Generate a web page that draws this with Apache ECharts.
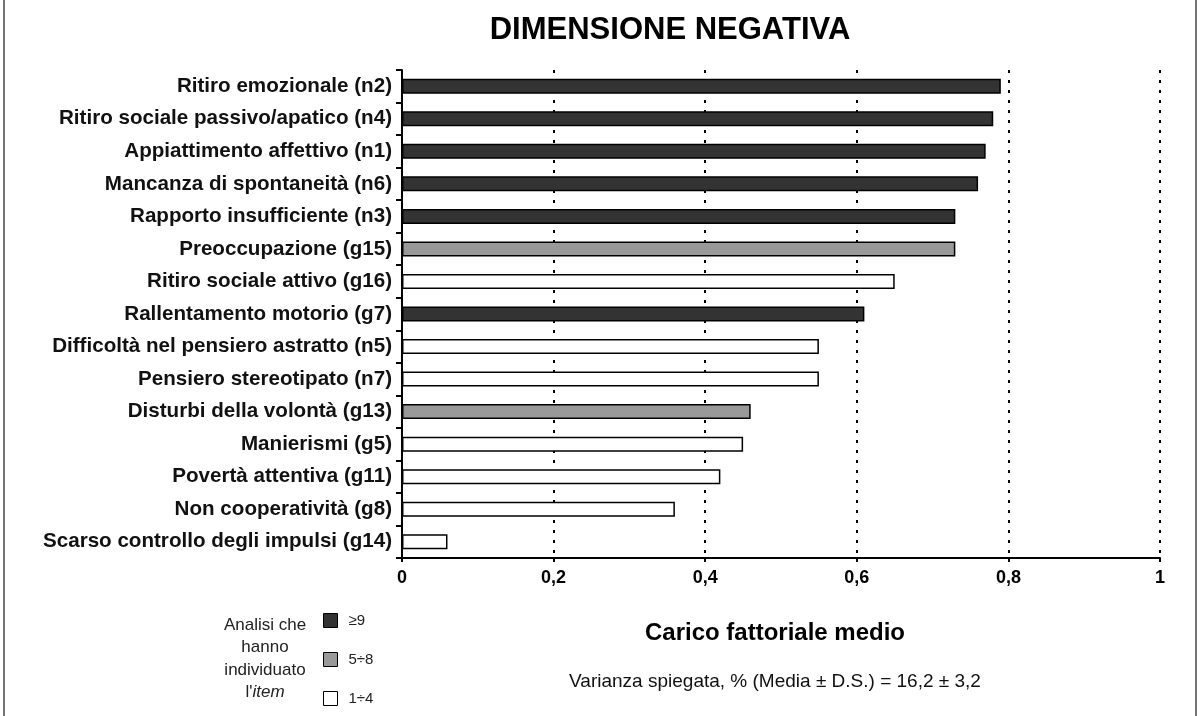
<!DOCTYPE html>
<html>
<head>
<meta charset="utf-8">
<script src="https://cdn.jsdelivr.net/npm/echarts@6/dist/echarts.min.js"></script>
<style>
html,body{margin:0;padding:0;background:#fff;}
#c{width:1200px;height:716px;}
</style>
</head>
<body>
<div id="c"></div>
<script>
const categories = [
  "Ritiro emozionale (n2)",
  "Ritiro sociale passivo/apatico (n4)",
  "Appiattimento affettivo (n1)",
  "Mancanza di spontaneità (n6)",
  "Rapporto insufficiente (n3)",
  "Preoccupazione (g15)",
  "Ritiro sociale attivo (g16)",
  "Rallentamento motorio (g7)",
  "Difficoltà nel pensiero astratto (n5)",
  "Pensiero stereotipato (n7)",
  "Disturbi della volontà (g13)",
  "Manierismi (g5)",
  "Povertà attentiva (g11)",
  "Non cooperatività (g8)",
  "Scarso controllo degli impulsi (g14)"
];
const values = [0.79, 0.78, 0.77, 0.76, 0.73, 0.73, 0.65, 0.61, 0.55, 0.55, 0.46, 0.45, 0.42, 0.36, 0.06];
// group: 0 = ≥9, 1 = 5÷8, 2 = 1÷4
const groups = [0, 0, 0, 0, 0, 1, 2, 0, 2, 2, 1, 2, 2, 2, 2];
const groupNames = ["≥9", "5÷8", "1÷4"];
const groupColors = ["#333333", "#999999", "#ffffff"];

const FONT = "'Liberation Sans', Arial, Helvetica, sans-serif";

const series = groupNames.map((g, gi) => ({
  name: g,
  type: 'bar',
  stack: 'all',
  barWidth: 15,
  data: values.map((v, i) => groups[i] === gi ? v : null),
  itemStyle: { color: groupColors[gi], borderColor: '#000', borderWidth: 1.5 },
  emphasis: { disabled: true },
  z: 3
}));

const chart = echarts.init(document.getElementById('c'), null, { renderer: 'canvas' });
chart.setOption({
  animation: false,
  backgroundColor: '#ffffff',
  title: {
    text: 'DIMENSIONE NEGATIVA',
    left: 665, top: 10, textAlign: 'center',
    textStyle: { fontFamily: FONT, fontSize: 31, fontWeight: 'bold', color: '#000' }
  },
  legend: {
    orient: 'vertical',
    left: 323, top: 613, padding: 0, height: 100,
    itemWidth: 14, itemHeight: 14, itemGap: 24,
    selectedMode: false,
    icon: 'rect',
    data: groupNames,
    itemStyle: { borderColor: '#000', borderWidth: 1 },
    textStyle: { fontFamily: FONT, fontSize: 15, color: '#222', padding: [0, 0, 0, 6] }
  },
  grid: { left: 402, right: 40, top: 70, bottom: 158, containLabel: false },
  xAxis: {
    type: 'value', min: 0, max: 1, interval: 0.2,
    axisLine: { show: true, lineStyle: { color: '#000', width: 2 } },
    axisTick: { show: true, length: 4, lineStyle: { color: '#000', width: 2 } },
    axisLabel: {
      margin: 11,
      fontFamily: FONT, fontSize: 18, fontWeight: 'bold', color: '#000',
      formatter: v => String(Math.round(v * 10) / 10).replace('.', ',')
    },
    splitLine: { show: true, lineStyle: { color: '#000', width: 2, type: [3, 7] } }
  },
  yAxis: {
    type: 'category', data: categories, inverse: true,
    axisLine: { show: true, lineStyle: { color: '#000', width: 2 } },
    axisTick: { show: true, length: 6, lineStyle: { color: '#000', width: 2 } },
    axisLabel: { margin: 10, fontFamily: FONT, fontSize: 20.6, fontWeight: 'bold', color: '#111' },
    splitLine: { show: false }
  },
  series: series,
  graphic: [
    { type: 'line', shape: { x1: 4, y1: 0, x2: 4, y2: 716 }, style: { stroke: '#444', lineWidth: 1.5 } },
    { type: 'line', shape: { x1: 1196, y1: 0, x2: 1196, y2: 716 }, style: { stroke: '#444', lineWidth: 1.5 } },
    {
      type: 'text',
      style: {
        x: 265, y: 614, text: 'Analisi che\nhanno\nindividuato\n{i|l\'}{it|item}',
        align: 'center', verticalAlign: 'top', lineHeight: 22.5,
        font: "17px 'Liberation Sans', Arial, sans-serif", fill: '#222',
        rich: {
          i: { fontFamily: FONT, fontSize: 17, lineHeight: 22.5, fill: '#222' },
          it: { fontFamily: FONT, fontSize: 17, lineHeight: 22.5, fontStyle: 'italic', fill: '#222' }
        }
      }
    },
    {
      type: 'text',
      style: {
        x: 775, y: 633, text: 'Carico fattoriale medio', align: 'center', verticalAlign: 'middle',
        font: "bold 24px 'Liberation Sans', Arial, sans-serif", fill: '#000'
      }
    },
    {
      type: 'text',
      style: {
        x: 775, y: 682, text: 'Varianza spiegata, % (Media ± D.S.) = 16,2 ± 3,2', align: 'center', verticalAlign: 'middle',
        font: "19px 'Liberation Sans', Arial, sans-serif", fill: '#111'
      }
    }
  ]
});
</script>
</body>
</html>
